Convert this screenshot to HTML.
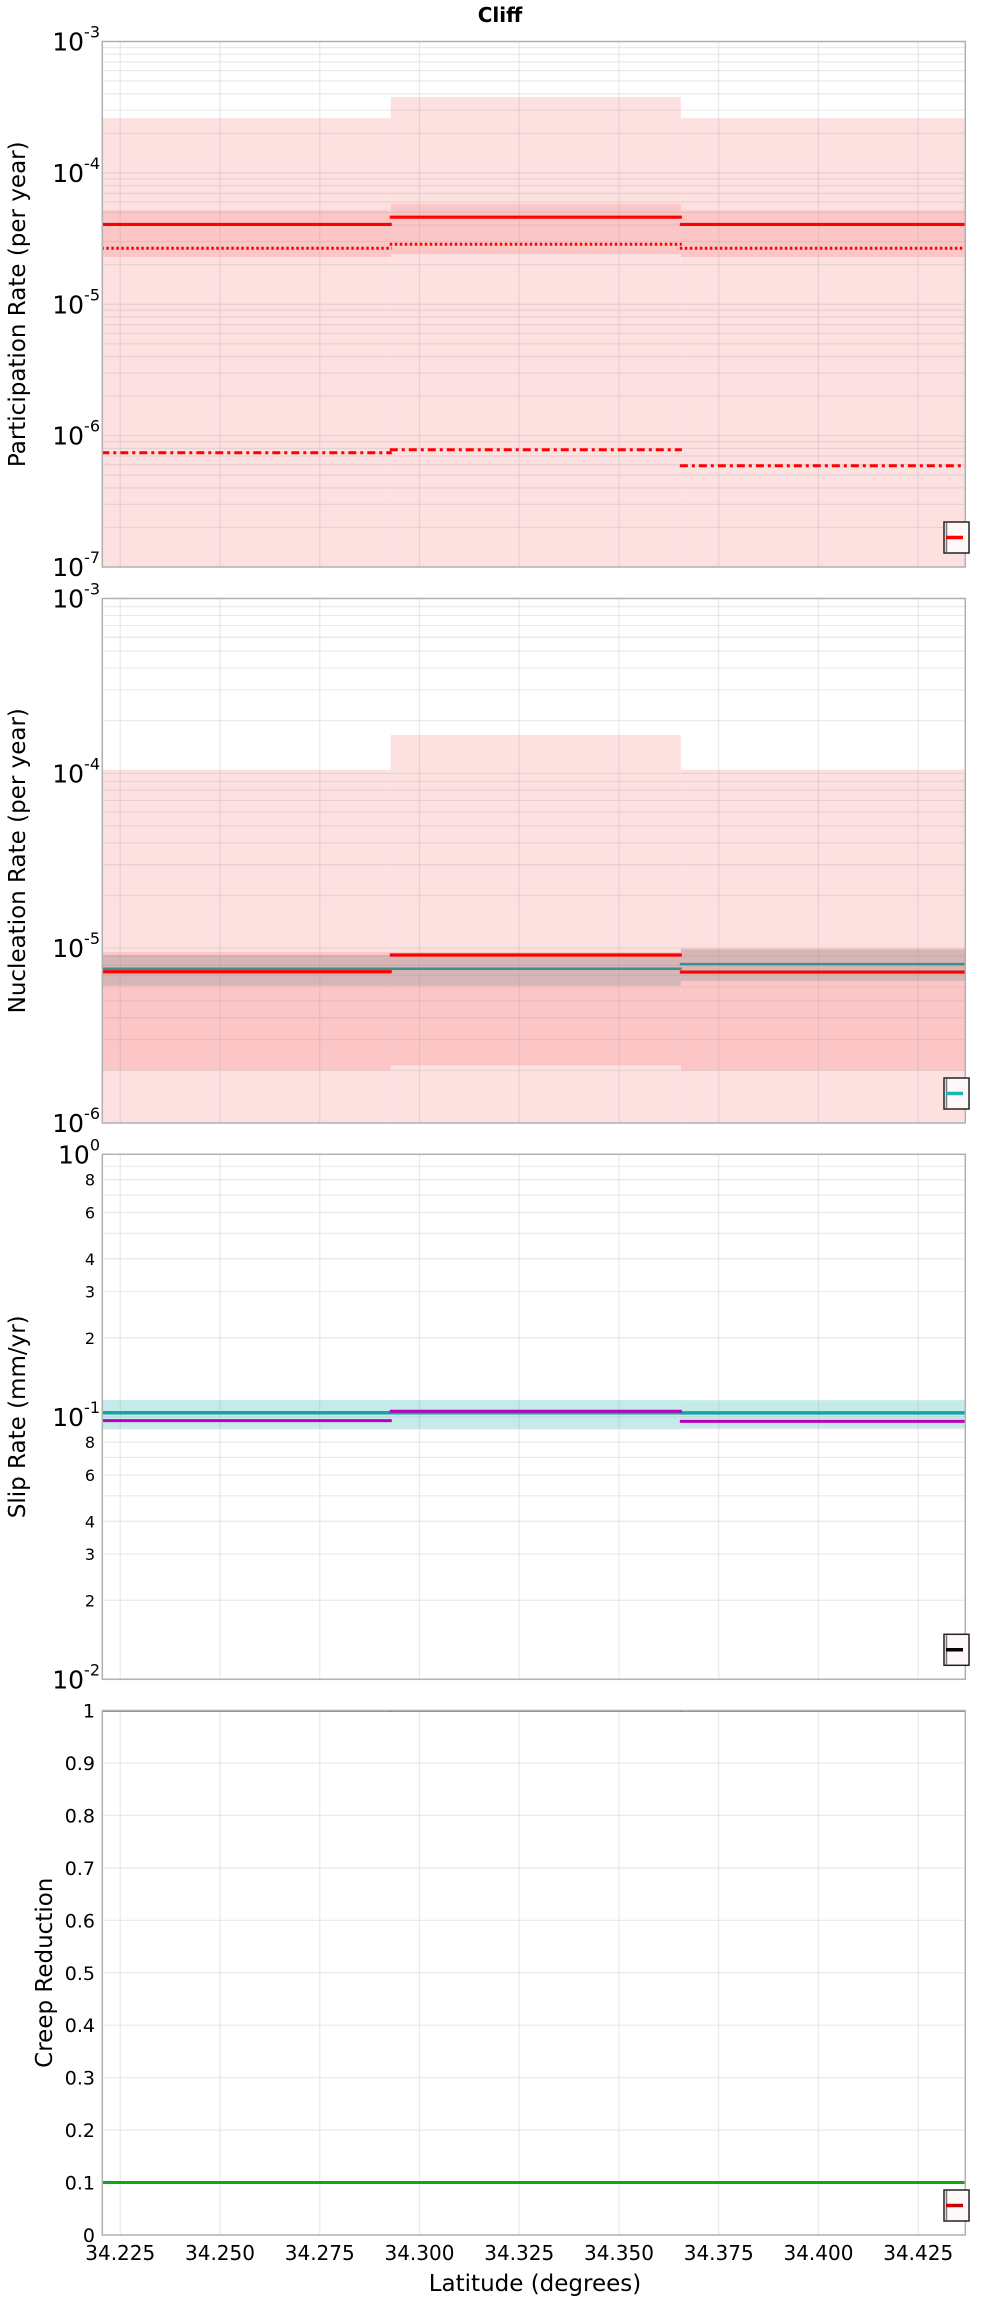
<!DOCTYPE html>
<html><head><meta charset="utf-8">
<style>
html,body{margin:0;padding:0;background:#fff;}
svg{display:block;font-family:"DejaVu Sans","Liberation Sans",sans-serif;}
</style></head>
<body>
<svg id="chart" width="1000" height="2300" viewBox="0 0 1000 2300" xmlns="http://www.w3.org/2000/svg">
<text x="500" y="22" text-anchor="middle" font-size="20" font-weight="bold" fill="#000">Cliff</text>
<text x="535" y="2291" text-anchor="middle" font-size="23" fill="#000">Latitude (degrees)</text>
</svg>
<script>
// ---- data ----
const xTicks = [34.225, 34.25, 34.275, 34.3, 34.325, 34.35, 34.375, 34.4, 34.425];
const xTickLabels = ["34.225","34.250","34.275","34.300","34.325","34.350","34.375","34.400","34.425"];
const segStart = [34.2205, 34.2928, 34.3655];
const segEnd = [34.2928, 34.3655, 34.4368];
// Participation
const partOuterHigh = [2.61e-4, 3.78e-4, 2.61e-4];
const partOuterLow = [1e-8, 1e-8, 1e-8];
const partInnerHigh = [5.19e-5, 5.78e-5, 5.19e-5];
const partInnerLow = [2.29e-5, 2.41e-5, 2.29e-5];
const partMean = [4.05e-5, 4.6e-5, 4.05e-5];
const partDotted = [2.67e-5, 2.86e-5, 2.67e-5];
const partDashDot = [7.4e-7, 7.8e-7, 5.9e-7];
// Nucleation
const nuclOuterHigh = [1.05e-4, 1.66e-4, 1.05e-4];
const nuclOuterLow = [1e-7, 1e-7, 1e-7];
const nuclInnerHigh = [9.5e-6, 9.5e-6, 1.0e-5];
const nuclInnerLow = [2.01e-6, 2.14e-6, 2.0e-6];
const nuclGrayHigh = [9.14e-6, 9.14e-6, 9.8e-6];
const nuclGrayLow = [6.1e-6, 6.1e-6, 6.5e-6];
const nuclRed = [7.33e-6, 9.14e-6, 7.3e-6];
const nuclTeal = [7.62e-6, 7.62e-6, 8.1e-6];
// Slip rate
const slipBandHigh = [0.116, 0.116, 0.1157];
const slipBandLow = [0.0902, 0.0902, 0.0906];
const slipTeal = [0.1036, 0.1036, 0.1035];
const slipMagenta = [0.0967, 0.105, 0.0961];
// Creep
const creepBlue = [1, 1, 1];
const creepGreen = [0.1, 0.1, 0.1];
const creepTicks = [0,0.1,0.2,0.3,0.4,0.5,0.6,0.7,0.8,0.9,1];
const creepTickLabels = ["0","0.1","0.2","0.3","0.4","0.5","0.6","0.7","0.8","0.9","1"];

// ---- layout ----
const NS = "http://www.w3.org/2000/svg";
const svg = document.getElementById('chart');
const X0 = 102.3, X1 = 965.3, XMIN = 34.2205, XMAX = 34.4368;
function xs(v){ return X0 + (v - XMIN) / (XMAX - XMIN) * (X1 - X0); }
function mk(tag, attrs, parent){
  const e = document.createElementNS(NS, tag);
  for (const k in attrs) e.setAttribute(k, attrs[k]);
  (parent || svg).appendChild(e);
  return e;
}
const panels = [
  {name:'participation', top:41.5, bot:567, log:true, lo:-7, hi:-3, title:'Participation Rate (per year)', tx:18, legend:'#ff0000'},
  {name:'nucleation', top:598.5, bot:1123, log:true, lo:-6, hi:-3, title:'Nucleation Rate (per year)', tx:18, legend:'#1ab5b5'},
  {name:'slip', top:1154.3, bot:1679.3, log:true, lo:-2, hi:0, title:'Slip Rate (mm/yr)', tx:18, legend:'#000000'},
  {name:'creep', top:1710.5, bot:2235, log:false, lo:0, hi:1, title:'Creep Reduction', tx:45, legend:'#cc0000'}
];
panels.forEach(p => {
  p.ys = p.log ? (v => p.bot - (Math.log10(v) - p.lo) / (p.hi - p.lo) * (p.bot - p.top))
               : (v => p.bot - (v - p.lo) / (p.hi - p.lo) * (p.bot - p.top));
});

panels.forEach((p, pi) => {
  const g = mk('g', {});
  
  
  const cp = mk('clipPath', {id: 'clip' + pi}, g);
  mk('rect', {x: X0, y: p.top, width: X1 - X0, height: p.bot - p.top}, cp);
  const plot = mk('g', {'clip-path': 'url(#clip' + pi + ')'}, g);

  function band(hi, lo, fill, nm){
    for (let i = 0; i < segStart.length; i++){
      const y1 = p.ys(hi[i]), y2 = p.ys(lo[i]);
      const r = mk('rect', {x: xs(segStart[i]), y: y1, width: xs(segEnd[i]) - xs(segStart[i]), height: y2 - y1, fill: fill}, plot);
      
      
    }
  }
  function line(vals, stroke, w, dash, nm){
    for (let i = 0; i < segStart.length; i++){
      const y = p.ys(vals[i]);
      const l = mk('line', {x1: xs(segStart[i]) - 1, x2: xs(segEnd[i]) + 1, y1: y, y2: y, stroke: stroke, 'stroke-width': w}, plot);
      if (dash) l.setAttribute('stroke-dasharray', dash);
      
      
    }
  }
  function grid(){
    const gg = mk('g', {stroke: 'rgba(150,150,150,0.2)', 'stroke-width': 1.2}, plot);
    xTicks.forEach(t => mk('line', {x1: xs(t), x2: xs(t), y1: p.top, y2: p.bot}, gg));
    if (p.log){
      for (let d = p.lo; d < p.hi; d++) for (let m = 1; m <= 9; m++){
        const y = p.ys(m * Math.pow(10, d));
        mk('line', {x1: X0, x2: X1, y1: y, y2: y}, gg);
      }
    } else {
      creepTicks.forEach(t => { const y = p.ys(t); mk('line', {x1: X0, x2: X1, y1: y, y2: y}, gg); });
    }
  }

  if (pi === 0){
    band(partOuterHigh, partOuterLow, '#fde0e0', 'participation-outer-band');
    band(partInnerHigh, partInnerLow, '#fcc6c6', 'participation-inner-band');
    grid();
    line(partMean, '#ff0000', 3.2, null, 'participation-mean-line');
    line(partDotted, '#ff0000', 3, '2.5,2.5', 'participation-dotted-line');
    line(partDashDot, '#ff0000', 3, '8,4,3,4', 'participation-dashdot-line');
  } else if (pi === 1){
    band(nuclOuterHigh, nuclOuterLow, '#fde0e0', 'nucleation-outer-band');
    band(nuclInnerHigh, nuclInnerLow, '#fcc6c6', 'nucleation-inner-band');
    band(nuclGrayHigh, nuclGrayLow, 'rgba(140,150,150,0.35)', 'nucleation-gray-band');
    grid();
    line(nuclTeal, '#3a8f8f', 2.5, null, 'nucleation-teal-line');
    line(nuclRed, '#ff0000', 3.2, null, 'nucleation-red-line');
  } else if (pi === 2){
    band(slipBandHigh, slipBandLow, '#c4eaea', 'slip-band');
    grid();
    line(slipTeal, '#17a3a3', 3.5, null, 'slip-teal-line');
    line(slipMagenta, '#bb00bb', 3, null, 'slip-magenta-line');
  } else {
    grid();
    line(creepBlue, '#4a4acc', 2.5, null, 'creep-blue-line');
    line(creepGreen, '#10a810', 3, null, 'creep-green-line');
  }

  const border = mk('rect', {x: X0, y: p.top, width: X1 - X0, height: p.bot - p.top, fill: 'none', stroke: '#b0b0b0', 'stroke-width': 1.5}, g);
  
  

  // legend stub
  const lg = mk('g', {}, g);
  
  
  const ly = p.bot - 45;
  mk('rect', {x: 944, y: ly, width: 25, height: 31, fill: '#fff8f8', stroke: '#222', 'stroke-width': 1.5}, lg);
  mk('line', {x1: 946.5, x2: 946.5, y1: ly + 1, y2: ly + 30, stroke: '#777', 'stroke-width': 1.5}, lg);
  mk('line', {x1: 946, x2: 963, y1: ly + 15.5, y2: ly + 15.5, stroke: p.legend, 'stroke-width': 3.5}, lg);

  // y-axis ticks
  const ax = mk('g', {fill: '#000'}, g);
  
  
  if (p.log){
    for (let d = p.lo; d <= p.hi; d++){
      const y = p.ys(Math.pow(10, d));
      const t = mk('text', {x: 100, y: y + 9, 'text-anchor': 'end', 'font-size': 25}, ax);
      
      
      const b = document.createElementNS(NS, 'tspan'); b.textContent = '10'; t.appendChild(b);
      const s = document.createElementNS(NS, 'tspan'); s.setAttribute('font-size', 16); s.setAttribute('dy', -13); s.textContent = String(d); t.appendChild(s);
      if (pi === 2 && d < p.hi){
        [2,3,4,6,8].forEach(m => {
          const tm = mk('text', {x: 95, y: p.ys(m * Math.pow(10, d)) + 6, 'text-anchor': 'end', 'font-size': 16}, ax);
          
          
          tm.textContent = String(m);
        });
      }
    }
  } else {
    creepTicks.forEach((t, i) => {
      const tt = mk('text', {x: 95, y: p.ys(t) + 7, 'text-anchor': 'end', 'font-size': 19}, ax);
      
      
      tt.textContent = creepTickLabels[i];
    });
  }
  const cy = (p.top + p.bot) / 2;
  const yt = mk('text', {x: p.tx, y: cy, transform: 'rotate(-90 ' + (p.tx) + ' ' + cy + ')', 'text-anchor': 'middle', 'dominant-baseline': 'central', 'font-size': 23, fill: '#000'}, g);
  
  
  yt.textContent = p.title;
});

// x tick labels
const xg = mk('g', {fill: '#000'});


xTicks.forEach((t, i) => {
  const tx = mk('text', {x: xs(t), y: 2260, 'text-anchor': 'middle', 'font-size': 20}, xg);
  
  
  tx.textContent = xTickLabels[i];
});
</script>
</body></html>
